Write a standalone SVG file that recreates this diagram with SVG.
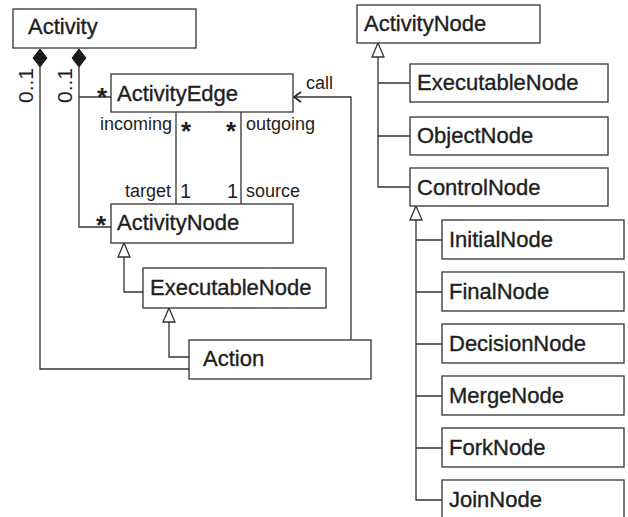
<svg xmlns="http://www.w3.org/2000/svg" width="628" height="517" viewBox="0 0 628 517">
<style>
.box{fill:#fff;stroke:#333;stroke-width:1.3}
.ln{fill:none;stroke:#333;stroke-width:1.3}
.tri{fill:#fff;stroke:#333;stroke-width:1.3}
.dia{fill:#1a1a1a;stroke:#1a1a1a;stroke-width:1}
text{font-family:"Liberation Sans",Arial,sans-serif;fill:#1e1e1e}
.nm{font-size:22px;stroke:#1e1e1e;stroke-width:0.35}
.lb{font-size:18px}
.one{font-size:20px}
.st{font-size:26px;text-anchor:middle;font-weight:bold}
.end{text-anchor:end}
</style>
<defs>
<marker id="open" markerWidth="10" markerHeight="12" refX="8" refY="6" orient="auto" markerUnits="userSpaceOnUse">
<path d="M1,1 L8,6 L1,11" fill="none" stroke="#222" stroke-width="1.6"/>
</marker>
</defs>
<rect width="628" height="517" fill="#fff"/>

<g id="connectors">
<!-- composition Activity - Action -->
<polygon class="dia" points="40,49 47,58 40,67 33,58"/>
<path class="ln" d="M40,67 V369 H189"/>
<text class="lb" style="font-size:21px" transform="translate(33,103) rotate(-90)">0..1</text>
<!-- composition Activity - edges/nodes -->
<polygon class="dia" points="79,49 86,58 79,67 72,58"/>
<path class="ln" d="M79,67 V227 H111 M79,97 H111"/>
<text class="lb" style="font-size:21px" transform="translate(72,103) rotate(-90)">0..1</text>
<text class="st" x="102" y="106">*</text>
<text class="st" x="101" y="234">*</text>
<!-- incoming / target -->
<path class="ln" d="M176,112 V204"/>
<text class="lb end" x="172" y="130">incoming</text>
<text class="st" x="186" y="140">*</text>
<text class="lb end" x="171" y="197">target</text>
<text class="one" x="180" y="198">1</text>
<!-- outgoing / source -->
<path class="ln" d="M241,112 V204"/>
<text class="lb" x="246" y="130">outgoing</text>
<text class="st" x="231" y="140">*</text>
<text class="lb" x="246" y="197">source</text>
<text class="one" x="227" y="198">1</text>
<!-- call -->
<path class="ln" d="M351,340 V97 H294" marker-end="url(#open)"/>
<text class="lb" x="306" y="89">call</text>
<!-- generalizations left -->
<path class="ln" d="M143,292 H124 V257"/>
<polygon class="tri" points="124,243 130,257 118,257"/>
<path class="ln" d="M189,357 H169 V322"/>
<polygon class="tri" points="169,308 175,322 163,322"/>
<!-- generalizations right -->
<path class="ln" d="M378,57 V187 H410 M378,83 H410 M378,136 H410"/>
<polygon class="tri" points="378,43 384,57 372,57"/>
<path class="ln" d="M416,220 V500 H442 M416,240 H442 M416,292 H442 M416,344 H442 M416,396 H442 M416,448 H442"/>
<polygon class="tri" points="416,206 422,220 410,220"/>
</g>

<g id="Activity"><rect class="box" x="13" y="9" width="183" height="39"/><text class="nm" x="28" y="34">Activity</text></g>
<g id="ActivityEdge"><rect class="box" x="111" y="74" width="182" height="38"/><text class="nm" x="117" y="101">ActivityEdge</text></g>
<g id="ActivityNodeL"><rect class="box" x="111" y="204" width="182" height="39"/><text class="nm" x="117" y="230">ActivityNode</text></g>
<g id="ExecutableNodeL"><rect class="box" x="143" y="268" width="183" height="40"/><text class="nm" x="150" y="295">ExecutableNode</text></g>
<g id="Action"><rect class="box" x="189" y="340" width="182" height="39"/><text class="nm" x="203" y="366">Action</text></g>

<g id="ActivityNodeR"><rect class="box" x="357" y="5" width="183" height="38"/><text class="nm" x="364" y="31">ActivityNode</text></g>
<g id="ExecutableNodeR"><rect class="box" x="410" y="64" width="198" height="38"/><text class="nm" x="417" y="90">ExecutableNode</text></g>
<g id="ObjectNode"><rect class="box" x="410" y="117" width="198" height="38"/><text class="nm" x="417" y="143">ObjectNode</text></g>
<g id="ControlNode"><rect class="box" x="410" y="168" width="198" height="38"/><text class="nm" x="417" y="195">ControlNode</text></g>
<g id="InitialNode"><rect class="box" x="442" y="220" width="182" height="39"/><text class="nm" x="449" y="247">InitialNode</text></g>
<g id="FinalNode"><rect class="box" x="442" y="272" width="182" height="39"/><text class="nm" x="449" y="299">FinalNode</text></g>
<g id="DecisionNode"><rect class="box" x="442" y="324" width="182" height="39"/><text class="nm" x="449" y="351">DecisionNode</text></g>
<g id="MergeNode"><rect class="box" x="442" y="376" width="182" height="39"/><text class="nm" x="449" y="403">MergeNode</text></g>
<g id="ForkNode"><rect class="box" x="442" y="428" width="182" height="39"/><text class="nm" x="449" y="455">ForkNode</text></g>
<g id="JoinNode"><rect class="box" x="442" y="480" width="182" height="40"/><text class="nm" x="449" y="507">JoinNode</text></g>
</svg>
